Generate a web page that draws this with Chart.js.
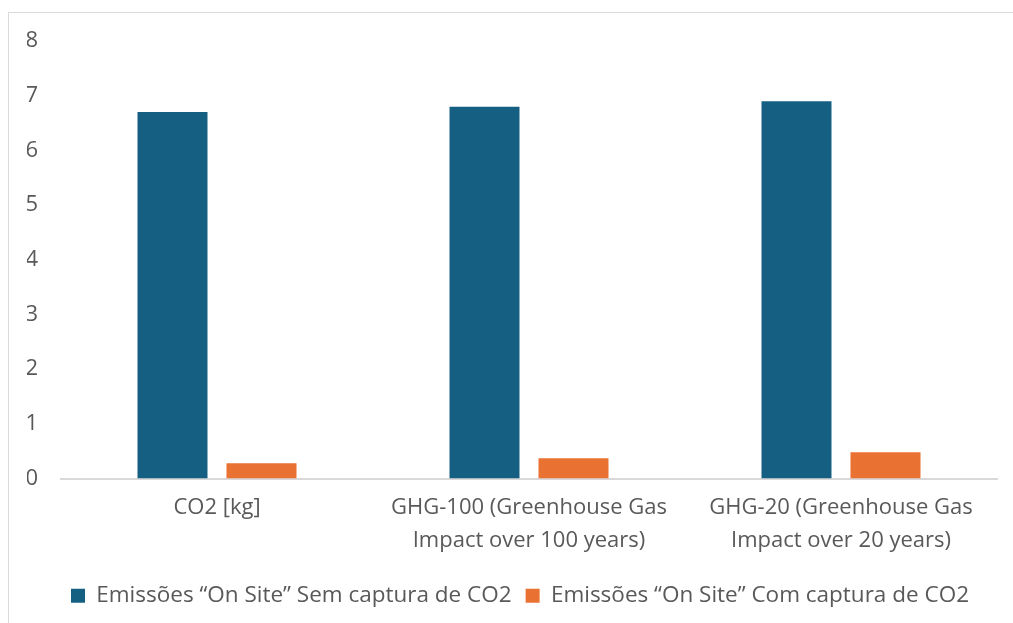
<!DOCTYPE html>
<html>
<head>
<meta charset="utf-8">
<script src="https://cdn.jsdelivr.net/npm/chart.js@4/dist/chart.umd.min.js"></script>
<style>
  html, body { margin: 0; padding: 0; background: #ffffff; }
  #frame { position: absolute; left: 8px; top: 12px; width: 1020px; height: 640px; border: 1px solid #d9d9d9; box-sizing: border-box; }
  #wrap { position: absolute; left: 0; top: 0; width: 1013px; height: 623px; }
</style>
</head>
<body>
<div id="frame"></div>
<div id="wrap"><canvas id="chart"></canvas></div>
<script>
// Emission categories (x axis), one label line per array entry
const categories = [
  ['CO2 [kg]'],
  ['GHG-100 (Greenhouse Gas', 'Impact over 100 years)'],
  ['GHG-20 (Greenhouse Gas', 'Impact over 20 years)']
];
const seriesNames = [
  'Emissões “On Site” Sem captura de CO2',
  'Emissões “On Site” Com captura de CO2'
];
const semCaptura = [6.7, 6.8, 6.9];
const comCaptura = [0.28, 0.37, 0.48];
const yTicks = [0, 1, 2, 3, 4, 5, 6, 7, 8];

const textColor = '#595959';
const fontFamily = '"Open Sans", "Liberation Sans", sans-serif';

new Chart(document.getElementById('chart'), {
  type: 'bar',
  data: {
    labels: categories,
    datasets: [
      { label: seriesNames[0], data: semCaptura, backgroundColor: '#156082' },
      { label: seriesNames[1], data: comCaptura, backgroundColor: '#e97132' }
    ]
  },
  options: {
    responsive: true,
    maintainAspectRatio: false,
    animation: false,
    datasets: { bar: { categoryPercentage: 0.5705, barPercentage: 0.7865 } },
    layout: { padding: { left: 27, right: 0, top: 41, bottom: 6 } },
    plugins: {
      tooltip: { enabled: false },
      legend: {
        position: 'bottom',
        labels: {
          color: textColor,
          font: { family: fontFamily, size: 22.5 },
          boxWidth: 14,
          boxHeight: 14,
          padding: 14
        }
      }
    },
    scales: {
      x: {
        grid: { display: false, drawTicks: false },
        border: { display: true, color: '#d9d9d9', width: 2 },
        ticks: {
          color: textColor,
          font: { family: fontFamily, size: 22, lineHeight: 1.5 },
          maxRotation: 0,
          autoSkip: false,
          padding: 13
        }
      },
      y: {
        min: 0,
        max: 8,
        afterBuildTicks: (scale) => { scale.ticks = yTicks.map(v => ({ value: v })); },
        afterFit: (scale) => { scale.width = 34; },
        grid: { display: false, drawTicks: false },
        border: { display: false },
        ticks: {
          color: textColor,
          font: { family: fontFamily, size: 22 },
          padding: 23
        }
      },
      // empty right-hand margin scale
      yRight: {
        position: 'right',
        min: 0,
        max: 8,
        afterFit: (scale) => { scale.width = 16; },
        grid: { display: false, drawTicks: false },
        border: { display: false },
        ticks: { display: false }
      }
    }
  }
});
</script>
</body>
</html>
